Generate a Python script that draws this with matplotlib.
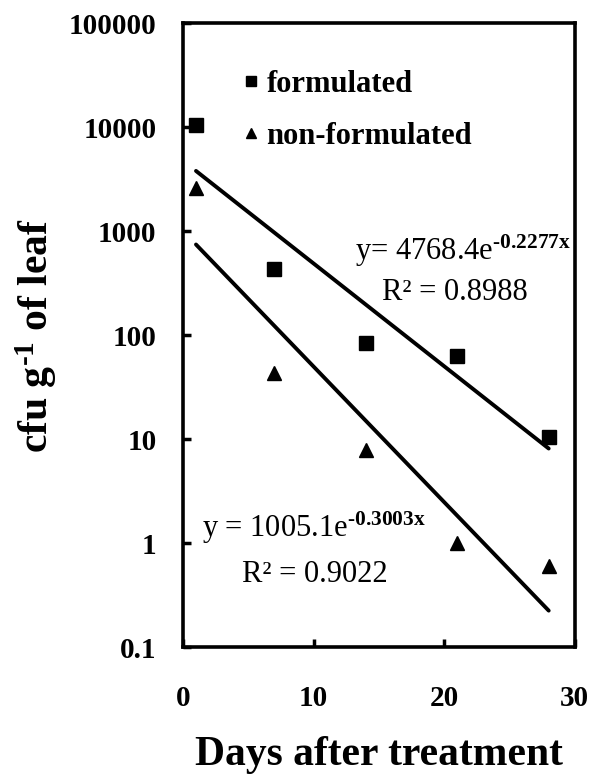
import numpy as np
import matplotlib.pyplot as plt

plt.rcParams['font.family'] = ['Liberation Serif', 'DejaVu Serif']
plt.rcParams['mathtext.fontset'] = 'custom'
plt.rcParams['mathtext.rm'] = 'Liberation Serif:bold'
plt.rcParams['mathtext.bf'] = 'Liberation Serif:bold'
plt.rcParams['mathtext.it'] = 'Liberation Serif:bold:italic'
plt.rcParams['axes.unicode_minus'] = False

# data
days = [1, 7, 14, 21, 28]
formulated = [10500, 430, 84, 63, 10.5]
non_formulated = [2600, 43, 7.8, 1.0, 0.6]

# exponential fits (coefficients from the chart)
fit_form = (4768.4, -0.2277)
fit_nonform = (1005.1, -0.3003)

fig = plt.figure(figsize=(5.92, 7.74), dpi=100)
ax = fig.add_axes([0.309, 0.164, 0.662, 0.806])

ax.plot(days, formulated, 's', color='black', markersize=10, label='formulated', zorder=3)
ax.plot(days, non_formulated, '^', color='black', markersize=10, label='non-formulated', zorder=3)

xx = np.linspace(days[0], days[-1], 50)
ax.plot(xx, fit_form[0] * np.exp(fit_form[1] * xx), color='black', lw=2.8, solid_capstyle='round')
ax.plot(xx, fit_nonform[0] * np.exp(fit_nonform[1] * xx), color='black', lw=2.8, solid_capstyle='round')

ax.set_yscale('log')
ax.set_xlim(0, 30)
ax.set_ylim(0.1, 100000)
ax.set_xticks([0, 10, 20, 30])
ax.set_yticks([0.1, 1, 10, 100, 1000, 10000, 100000])
ax.set_yticklabels(['0.1', '1', '10', '100', '1000', '10000', '100000'])
ax.minorticks_off()
ax.tick_params(axis='y', direction='in', length=6, width=2.5, pad=19, labelsize=21)
ax.tick_params(axis='x', direction='in', length=6, width=2.5, pad=27, labelsize=21)
for lab in ax.get_xticklabels() + ax.get_yticklabels():
    lab.set_fontweight('bold')
for s in ax.spines.values():
    s.set_linewidth(2.6)

ax.set_xlabel('Days after treatment', fontsize=30, fontweight='bold')
ax.xaxis.set_label_coords(0.5, -0.142)
ax.xaxis.label.set_va('top')
ax.set_ylabel('cfu g$^{\\text{-1}}$ of leaf', fontsize=30, fontweight='bold')
ax.yaxis.set_label_coords(-0.315, 0.5)

leg = ax.legend(loc='upper left', bbox_to_anchor=(0.155, 0.925), frameon=False,
                prop={'weight': 'bold', 'size': 22}, handletextpad=0.25,
                handlelength=0.5, labelspacing=0.75, borderaxespad=0, borderpad=0,
                markerscale=0.7)

ax.text(0.439, 0.620, 'y= 4768.4e$^{\\text{-0.2277x}}$', transform=ax.transAxes,
        ha='left', va='baseline', fontsize=22)
ax.text(0.508, 0.556, 'R² = 0.8988', transform=ax.transAxes,
        ha='left', va='baseline', fontsize=22)
ax.text(0.048, 0.176, 'y = 1005.1e$^{\\text{-0.3003x}}$', transform=ax.transAxes,
        ha='left', va='baseline', fontsize=22)
ax.text(0.151, 0.104, 'R² = 0.9022', transform=ax.transAxes,
        ha='left', va='baseline', fontsize=22)

fig.savefig('out.png', dpi=100)
